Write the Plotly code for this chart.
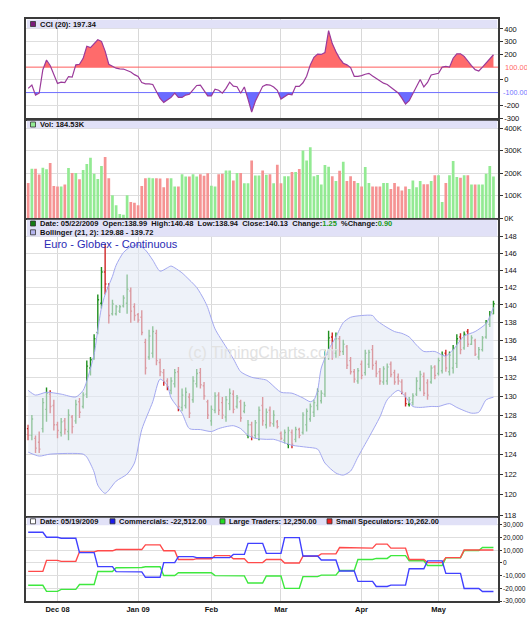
import numpy as np
import pandas as pd
import plotly.graph_objects as go

# ---------------- data ----------------
HOLIDAYS = ["2008-11-27", "2008-12-25", "2009-01-01", "2009-01-19", "2009-02-16", "2009-04-10"]
trade_dates = pd.bdate_range("2008-11-18", "2009-05-22", freq="C", holidays=HOLIDAYS)

month_labels = ["Dec 08", "Jan 09", "Feb", "Mar", "Apr", "May"]

price_open = [126.6, 125.9, 125.6, 125.2, 126.6, 128.6, 130.2, 129.0, 127.0, 126.2,
              127.4, 126.3, 127.8, 127.4, 129.4, 128.9, 130.2, 133.0, 134.0, 136.9,
              140.2, 143.8, 142.0, 139.0, 139.0, 139.3, 139.9, 140.2, 141.6, 139.8,
              138.9, 138.6, 135.8, 134.2, 134.6, 136.8, 133.6, 132.5, 131.6, 130.6,
              131.3, 132.6, 128.8, 129.0, 129.9, 129.6, 131.3, 132.5, 131.1, 129.4,
              127.4, 128.5, 130.1, 129.3, 127.8, 129.2, 130.2, 128.9, 129.4, 128.4,
              125.9, 127.0, 125.9, 126.0, 129.0, 127.0, 128.5, 127.1, 127.3, 126.1,
              125.4, 125.0, 126.2, 125.5, 126.5, 126.2, 127.0, 127.6, 128.3, 129.0,
              129.5, 130.2, 134.5, 136.4, 134.6, 136.2, 134.8, 135.3, 133.8, 132.6,
              131.6, 133.4, 132.5, 133.4, 135.0, 133.5, 132.6, 131.5, 131.6, 133.4,
              132.5, 132.0, 131.5, 130.2, 129.1, 129.3, 130.2, 130.8, 132.1, 131.4,
              131.5, 133.1, 132.4, 132.7, 134.6, 132.6, 133.0, 133.5, 136.4, 135.2,
              137.0, 135.6, 136.0, 134.2, 135.0, 136.4, 137.8, 138.99]
price_high = [127.0, 128.0, 125.9, 126.3, 129.8, 130.9, 130.6, 129.6, 127.3, 127.7,
              127.7, 128.6, 128.0, 129.6, 129.8, 130.4, 133.8, 134.2, 136.7, 141.2,
              144.4, 147.1, 142.5, 140.6, 140.0, 140.0, 141.1, 143.5, 142.0, 140.2,
              139.1, 139.4, 136.2, 137.2, 137.6, 137.2, 134.0, 132.9, 131.9, 132.0,
              132.9, 133.1, 130.8, 130.9, 130.3, 132.1, 132.9, 133.0, 131.5, 129.6,
              129.0, 130.4, 130.4, 129.9, 130.0, 130.8, 130.6, 130.1, 129.6, 129.4,
              127.5, 127.3, 127.5, 128.9, 129.9, 128.7, 128.9, 128.5, 127.5, 126.3,
              126.5, 126.8, 126.5, 126.8, 126.7, 128.3, 128.7, 129.2, 129.6, 130.8,
              130.6, 135.0, 137.1, 136.9, 136.9, 136.5, 136.1, 135.5, 134.2, 132.9,
              133.0, 133.8, 135.0, 135.0, 135.5, 133.8, 133.0, 133.2, 133.5, 133.7,
              132.8, 132.4, 131.8, 130.4, 129.9, 130.3, 132.0, 132.7, 132.5, 131.8,
              133.3, 133.3, 134.1, 134.8, 135.0, 134.8, 135.5, 136.7, 136.8, 137.0,
              137.3, 136.6, 136.2, 135.3, 136.5, 138.3, 139.3, 140.48]
price_low = [125.4, 125.4, 124.1, 124.1, 126.2, 127.3, 128.2, 126.4, 125.6, 125.8,
             126.0, 125.4, 126.1, 127.1, 127.7, 128.7, 129.8, 132.2, 133.9, 136.7,
             139.6, 141.2, 137.9, 138.8, 138.8, 139.1, 139.7, 139.0, 138.0, 138.2,
             138.0, 136.6, 132.3, 133.9, 134.1, 133.3, 132.1, 131.1, 130.6, 130.2,
             130.9, 128.4, 128.4, 128.7, 127.7, 129.3, 130.9, 130.8, 129.6, 127.6,
             126.9, 128.2, 128.0, 127.6, 127.3, 128.5, 128.2, 128.7, 127.3, 128.2,
             125.6, 125.4, 125.6, 125.4, 126.9, 126.6, 126.8, 126.8, 126.6, 125.4,
             125.1, 124.6, 124.6, 125.2, 125.6, 126.0, 126.3, 127.3, 127.8, 128.5,
             129.2, 129.9, 133.9, 133.9, 134.1, 134.3, 134.4, 132.9, 132.3, 131.4,
             131.3, 131.8, 132.2, 133.0, 132.8, 132.0, 131.2, 131.2, 131.2, 132.0,
             131.2, 131.2, 130.2, 128.9, 128.9, 129.0, 130.0, 130.5, 130.0, 129.6,
             131.3, 131.8, 132.2, 132.4, 132.6, 132.2, 132.4, 133.0, 134.5, 135.0,
             135.3, 135.5, 134.3, 133.9, 134.8, 136.2, 137.5, 138.94]
price_close = [125.9, 127.6, 124.6, 124.5, 129.3, 130.3, 128.9, 127.0, 126.4, 127.3,
               126.5, 128.0, 126.8, 129.1, 128.3, 130.1, 133.2, 133.9, 136.2, 140.6,
               143.8, 142.4, 138.8, 140.1, 139.8, 139.8, 140.8, 141.8, 139.3, 138.8,
               138.3, 136.9, 133.0, 136.5, 137.0, 133.8, 132.6, 131.5, 131.0, 131.6,
               132.5, 128.9, 130.1, 130.4, 128.2, 131.6, 132.4, 131.2, 130.0, 128.0,
               128.6, 130.0, 128.5, 128.0, 129.6, 130.3, 128.6, 129.8, 127.7, 129.0,
               127.0, 125.8, 127.2, 128.5, 127.4, 128.3, 127.2, 128.0, 126.8, 125.6,
               126.2, 126.4, 125.0, 126.5, 125.9, 128.0, 128.4, 128.9, 129.3, 130.5,
               130.3, 134.5, 136.3, 134.6, 136.2, 134.8, 135.6, 133.3, 132.6, 131.8,
               132.7, 132.2, 134.6, 134.7, 133.3, 132.4, 131.6, 132.9, 133.1, 132.3,
               131.5, 131.6, 130.4, 129.2, 129.6, 130.0, 131.6, 132.3, 130.3, 130.1,
               133.0, 132.2, 133.8, 134.4, 133.0, 134.4, 135.1, 136.2, 135.0, 136.7,
               135.6, 136.3, 134.5, 135.0, 136.3, 138.0, 138.88, 140.13]

volume_k = [156, 220, 220, 194, 224, 217, 245, 143, 141, 141,
            149, 223, 201, 201, 173, 214, 241, 269, 197, 174,
            232, 272, 177, 101, 57, 18, 15, 101, 71, 68,
            57, 143, 177, 179, 177, 177, 176, 137, 177, 177,
            141, 141, 195, 185, 185, 195, 185, 195, 188, 200,
            144, 141, 195, 197, 212, 212, 167, 201, 201, 155,
            155, 256, 189, 189, 212, 193, 195, 155, 238, 155,
            186, 186, 205, 205, 218, 301, 256, 316, 186, 192,
            149, 236, 229, 186, 165, 211, 251, 165, 186, 165,
            156, 140, 227, 156, 141, 141, 141, 156, 156, 129,
            156, 141, 123, 141, 129, 167, 137, 165, 150, 150,
            165, 191, 191, 71, 156, 191, 254, 183, 179, 191,
            191, 149, 149, 149, 149, 197, 232, 184.53]

cci = [-67, -41, -120, -105, 80, 156, 113, 41, -28, -18,
       -21, 26, 21, 118, 123, 169, 264, 254, 285, 315,
       303, 226, 123, 105, 92, 87, 85, 74, 62, 41,
       26, -21, -31, -31, -36, -92, -146, -177, -159, -138,
       -105, -138, -138, -120, -113, -74, -44, -41, -79, -126,
       -126, -74, -82, -105, -67, -18, -49, -54, -105, -56,
       -151, -254, -169, -105, -51, -38, -41, -56, -82, -151,
       -133, -113, -118, -51, -51, -23, 28, 118, 177, 203,
       200, 215, 387, 285, 221, 169, 131, 118, 97, 28,
       28, 33, 44, 51, 31, 13, -10, -26, -36, -56,
       -82, -103, -144, -190, -164, -108, -41, 3, -56, -20,
       38, 44, 52, 100, 106, 100, 170, 205, 205, 185,
       145, 112, 80, 70, 100, 135, 168, 197.34]

# Bollinger (21, 2) bands, read at these bar numbers
bb_upper_bar = [0, 2, 5, 9, 13, 15, 16, 18, 19, 20, 21, 23, 24, 26, 28, 30, 32, 34, 36, 38,
                39, 42, 43, 46, 48, 49, 51, 54, 56, 58, 61, 65, 66, 69, 72, 75, 77, 78, 79, 80,
                82, 84, 86, 88, 91, 94, 95, 97, 100, 102, 104, 106, 108, 111, 113, 114, 116,
                119, 122, 125, 126, 127]
bb_upper = [130.6, 130.1, 130.4, 130.2, 129.9, 130.6, 131.6, 134.5, 137.2, 139.7, 141.2, 143.3,
            144.6, 146.1, 146.8, 147.0, 146.4, 145.2, 143.9, 144.3, 144.5, 143.7, 143.3, 142.0,
            140.6, 139.7, 137.3, 135.3, 134.0, 132.6, 132.0, 131.7, 131.4, 130.4, 130.3, 129.8,
            129.4, 129.6, 130.6, 133.0, 135.0, 136.4, 138.0, 138.6, 138.8, 138.8, 138.3, 137.7,
            137.0, 136.8, 136.4, 135.5, 134.8, 134.8, 134.4, 134.3, 135.0, 136.5, 137.0, 137.9,
            138.7, 139.72]
bb_lower_bar = [0, 3, 6, 15, 16, 18, 19, 21, 24, 27, 29, 31, 34, 36, 38, 39, 42, 44, 47, 50,
                52, 54, 56, 58, 60, 62, 65, 67, 68, 72, 76, 79, 81, 84, 86, 88, 90, 93, 96, 98,
                101, 103, 105, 107, 110, 112, 115, 117, 121, 123, 125, 127]
bb_lower = [124.2, 123.8, 124.0, 124.0, 123.7, 122.2, 120.9, 120.1, 121.3, 122.0, 123.1, 126.5,
            129.4, 131.8, 131.1, 129.8, 128.2, 126.6, 126.5, 126.3, 126.6, 126.8, 126.9, 126.6,
            125.9, 125.6, 125.5, 125.5, 125.4, 124.9, 124.7, 124.5, 123.1, 122.1, 121.9, 122.3,
            123.7, 125.7, 127.8, 129.6, 130.6, 129.9, 128.9, 128.8, 128.9, 128.9, 129.2, 128.8,
            128.2, 128.3, 129.6, 129.88]

# Weekly COT report values (report date = Tuesday)
cot_dates = ["2008-11-18", "2008-11-25", "2008-12-02", "2008-12-09", "2008-12-16", "2008-12-23",
             "2008-12-30", "2009-01-06", "2009-01-13", "2009-01-20", "2009-01-27", "2009-02-03",
             "2009-02-10", "2009-02-17", "2009-02-24", "2009-03-03", "2009-03-10", "2009-03-17",
             "2009-03-24", "2009-03-31", "2009-04-07", "2009-04-14", "2009-04-21", "2009-04-28",
             "2009-05-05", "2009-05-12", "2009-05-19"]
cot_commercials = [24200, 20300, 19500, 8200, -2900, -6800, -7000, -11300, 300, 5000, 4200, 4200,
                   6800, 15500, 7600, 20000, 5500, 2400, -6300, -14500, -18500, -17500, -4500,
                   1700, -8200, -20100, -22512]
cot_large = [-17600, -22400, -20800, -17000, -6700, -3800, -3600, -3000, -9900, -7700, -7600,
             -10000, -10200, -15800, -10300, -20000, -10800, -9600, -5900, 2800, 3600, 5800,
             1800, -2000, 4000, 9800, 12250]
cot_small = [-6600, 2100, 1300, 8800, 9600, 10600, 10600, 14300, 9600, 2700, 3400, 5800, 3400,
             300, 2700, 0, 5300, 7200, 12200, 11700, 14900, 11700, 2700, 300, 4200, 10300, 10262]

# ---------------- derived ----------------
n = len(price_close)
xi = np.arange(n)
o = np.array(price_open); c = np.array(price_close)
up = c >= o
month_idx = [i for i in range(1, n) if trade_dates[i].month != trade_dates[i - 1].month]

cot_dt = pd.to_datetime(cot_dates).values
pos = np.searchsorted(cot_dt, trade_dates.values, side="right") - 1
comm_d = np.array(cot_commercials, dtype=float)[pos]
large_d = np.array(cot_large, dtype=float)[pos]
small_d = np.array(cot_small, dtype=float)[pos]


def clip_poly(xv, yv, level, above):
    xs, ys = [], []
    for k in range(len(xv)):
        if k > 0:
            y0, y1 = yv[k - 1], yv[k]
            if (y0 - level) * (y1 - level) < 0:
                t = (level - y0) / (y1 - y0)
                xs.append(xv[k - 1] + t * (xv[k] - xv[k - 1]))
                ys.append(level)
        ys.append(max(yv[k], level) if above else min(yv[k], level))
        xs.append(xv[k])
    xs += [xv[-1], xv[0]]
    ys += [level, level]
    return xs, ys


# ---------------- geometry ----------------
W, H = 527, 625
ML, MR, MT, MB = 26, 29, 19, 24
PW, PH = W - ML - MR, H - MT - MB


def py(ypx):
    return min(1.0, max(0.0, (H - MB - ypx) / PH))


def pxp(xpx):
    return (xpx - ML) / PW


XR = [-0.6, 128.24]
FONT = "Liberation Sans, Arial, sans-serif"
GRID = "#dedede"
BORDER = "#3a3a3a"
GREEN_BAR, RED_BAR = "#1f8f1f", "#cf2525"

fig = go.Figure()

# ---- CCI panel ----
fig.add_trace(go.Scatter(x=[XR[0], XR[1]], y=[100, 100], mode="lines",
                         line=dict(color="#ff5c5c", width=1), hoverinfo="skip",
                         xaxis="x", yaxis="y"))
fig.add_trace(go.Scatter(x=[XR[0], XR[1]], y=[-100, -100], mode="lines",
                         line=dict(color="#6e6eff", width=1), hoverinfo="skip",
                         xaxis="x", yaxis="y"))
fx, fy = clip_poly(list(xi), list(cci), 100, True)
fig.add_trace(go.Scatter(x=fx, y=fy, fill="toself", fillcolor="#ff6b6b", mode="lines",
                         line=dict(width=0), hoverinfo="skip", xaxis="x", yaxis="y"))
fx, fy = clip_poly(list(xi), list(cci), -100, False)
fig.add_trace(go.Scatter(x=fx, y=fy, fill="toself", fillcolor="#6b6bff", mode="lines",
                         line=dict(width=0), hoverinfo="skip", xaxis="x", yaxis="y"))
fig.add_trace(go.Scatter(x=xi, y=cci, mode="lines", line=dict(color="#9a3a9a", width=1.2),
                         hoverinfo="skip", xaxis="x", yaxis="y"))

# ---- Volume panel ----
fig.add_trace(go.Bar(x=xi, y=np.array(volume_k) * 1000,
                     marker=dict(color=np.where(up, "#93ea93", "#f59393"), line=dict(width=0)),
                     width=0.74, hoverinfo="skip", xaxis="x2", yaxis="y2"))

# ---- Price panel ----
fig.add_trace(go.Scatter(x=bb_lower_bar, y=bb_lower, mode="lines",
                         line=dict(color="#a3a8f0", width=1, shape="spline", smoothing=0.7),
                         hoverinfo="skip", xaxis="x3", yaxis="y3"))
fig.add_trace(go.Scatter(x=bb_upper_bar, y=bb_upper, mode="lines", fill="tonexty",
                         fillcolor="rgba(226,234,245,0.6)",
                         line=dict(color="#a3a8f0", width=1, shape="spline", smoothing=0.7),
                         hoverinfo="skip", xaxis="x3", yaxis="y3"))
fig.add_trace(go.Scatter(x=[64.4], y=[134.5], mode="text", text=["(c) TimingCharts.com"],
                         textfont=dict(family=FONT, size=16, color="#e2e2e2"),
                         hoverinfo="skip", xaxis="x3", yaxis="y3"))
fig.add_trace(go.Ohlc(x=xi, open=price_open, high=price_high, low=price_low, close=price_close,
                      increasing=dict(line=dict(color=GREEN_BAR, width=1.4)),
                      decreasing=dict(line=dict(color=RED_BAR, width=1.4)),
                      tickwidth=0.35, hoverinfo="skip", xaxis="x3", yaxis="y3"))

# ---- COT panel ----
for ser, col in [(large_d, "#3ee83e"), (small_d, "#ff4a4a"), (comm_d, "#4040ff")]:
    fig.add_trace(go.Scatter(x=xi, y=ser, mode="lines", line=dict(color=col, width=1.4),
                             hoverinfo="skip", xaxis="x4", yaxis="y4"))

# ---------------- axes ----------------
domains = {
    "": [py(118), py(19)],
    "2": [py(218), py(120.5)],
    "3": [py(516), py(219.5)],
    "4": [py(601), py(517.5)],
}
tickfont = dict(family=FONT, size=7.5, color="#111")
common_y = dict(side="right", showgrid=True, gridcolor=GRID, gridwidth=1, ticks="outside",
                ticklen=3, tickcolor="#333", tickfont=tickfont, showline=True, mirror=True,
                linecolor=BORDER, linewidth=1.5, zeroline=False, fixedrange=True,
                automargin=False)
for k, dom in domains.items():
    fig.layout["xaxis" + k] = dict(domain=[0, 1], range=XR, anchor="y" + k, showgrid=True,
                                   gridcolor="#d8d8d8", tickvals=month_idx, ticktext=month_labels,
                                   showticklabels=(k == "4"), ticks="", showline=True, mirror=True,
                                   linecolor=BORDER, linewidth=1.5, zeroline=False,
                                   tickfont=dict(family=FONT, size=7.5, color="#111", weight="bold"),
                                   fixedrange=True, automargin=False)
fig.layout.xaxis3.rangeslider = dict(visible=False)

cci_ticks = [-300, -200, 0, 200, 300, 400]
fig.layout.yaxis = dict(domain=domains[""], range=[-300, 478.6], anchor="x", tickvals=cci_ticks,
                        ticktext=[str(v) for v in cci_ticks], **common_y)
vol_ticks = [0, 100000, 200000, 300000, 400000]
fig.layout.yaxis2 = dict(domain=domains["2"], range=[0, 434800], anchor="x2", tickvals=vol_ticks,
                         ticktext=["%dK" % (v // 1000) for v in vol_ticks], **common_y)
p_ticks = list(range(118, 149, 2))
fig.layout.yaxis3 = dict(domain=domains["3"], type="log",
                         range=[np.log10(117.91), np.log10(150.08)], anchor="x3",
                         tickvals=p_ticks, ticktext=[str(v) for v in p_ticks], **common_y)
cot_ticks = list(range(-30000, 30001, 10000))
fig.layout.yaxis4 = dict(domain=domains["4"], range=[-30000, 35900], anchor="x4",
                         tickvals=cot_ticks, ticktext=["{:,}".format(v) for v in cot_ticks],
                         **common_y)
fig.layout.yaxis4.tickfont = dict(family=FONT, size=6.6, color="#111")
fig.layout.yaxis4.ticklen = 2

# ---------------- decorations ----------------
shapes = []
annotations = []
HEADER = "#e1e1f7"
for top, bot in [(19.8, 28.2), (120.8, 128.2), (219.8, 236.6), (517.8, 525.2)]:
    shapes.append(dict(type="rect", xref="paper", yref="paper", x0=pxp(27), x1=pxp(497.2),
                       y0=py(bot), y1=py(top), fillcolor=HEADER, line=dict(width=0),
                       layer="above"))


def square(xl, yc, color):
    shapes.append(dict(type="rect", xref="paper", yref="paper", x0=pxp(xl), x1=pxp(xl + 5),
                       y0=py(yc + 2.5), y1=py(yc - 2.5), fillcolor=color,
                       line=dict(color="#333", width=0.8), layer="above"))


def label(xl, yc, text, size=7.5, color="#111", weight="bold"):
    annotations.append(dict(xref="paper", yref="paper", x=pxp(xl), y=py(yc), text=text,
                            showarrow=False, xanchor="left", yanchor="middle",
                            font=dict(family=FONT, size=size, color=color, weight=weight)))


square(30.5, 24, "#7a1a7a")
label(37.5, 24.2, "CCI (20): 197.34")
square(30.5, 124.5, "#93ea93")
label(37.5, 124.7, "Vol: 184.53K")
square(30.5, 223.5, "#137a13")
label(37.5, 223.7, "Date: 05/22/2009  Open:138.99  High:140.48  Low:138.94  Close:140.13  "
      "Change:<span style='color:#1a9a1a'>1.25</span>  %Change:<span style='color:#1a9a1a'>0.90</span>")
square(30.5, 232.3, "#b4b4ee")
label(37.5, 232.5, "Bollinger (21, 2): 129.88 - 139.72")
label(42, 244.5, "Euro - Globex - Continuous", size=11, color="#2a2ab4", weight="normal")
square(30.5, 521.3, "#ffffff")
label(37.5, 521.5, "Date: 05/19/2009")
square(110, 521.3, "#1a1aee")
label(117, 521.5, "Commercials: -22,512.00")
square(220, 521.3, "#22dd22")
label(227, 521.5, "Large Traders: 12,250.00")
square(327, 521.3, "#ee2222")
label(334, 521.5, "Small Speculators: 10,262.00")

annotations.append(dict(xref="paper", yref="y", x=pxp(503), y=100, text="100.00",
                        showarrow=False, xanchor="left", yanchor="middle",
                        font=dict(family=FONT, size=7.5, color="#ff6a6a")))
annotations.append(dict(xref="paper", yref="y", x=pxp(501), y=-100, text="-100.00",
                        showarrow=False, xanchor="left", yanchor="middle",
                        font=dict(family=FONT, size=7.2, color="#7272ff")))

fig.update_layout(width=W, height=H, margin=dict(l=ML, r=MR, t=MT, b=MB, autoexpand=False),
                  paper_bgcolor="white", plot_bgcolor="white", showlegend=False,
                  hovermode=False, shapes=shapes, annotations=annotations,
                  font=dict(family=FONT, size=7.5, color="#111"))

fig.write_html("out.html")
